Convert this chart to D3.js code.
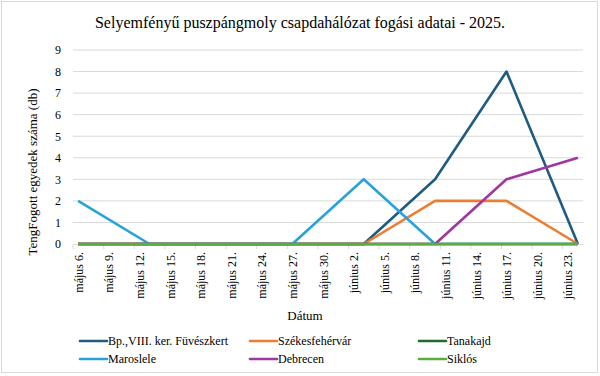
<!DOCTYPE html>
<html>
<head>
<meta charset="utf-8">
<script src="https://cdn.jsdelivr.net/npm/d3@7"></script>
<style>
  body { margin: 0; background: #fff; }
  text { font-family: "Liberation Serif", "DejaVu Serif", serif; fill: #000; }
</style>
</head>
<body>
<div id="chart"></div>
<script>
// data: weekly catch counts
let dates = ["2025-05-06", "2025-05-13", "2025-05-20", "2025-05-27", "2025-06-03", "2025-06-10", "2025-06-17", "2025-06-24"];
let seriesNames = ["Bp.,VIII. ker. Füvészkert", "Székesfehérvár", "Tanakajd", "Maroslele", "Debrecen", "Siklós"];
let seriesColors = ["#1f5c80", "#ed7d31", "#1e6b2c", "#28a3d9", "#a0379f", "#5cac3f"];
let bpValues = [0, 0, 0, 0, 0, 3, 8, 0];
let szfValues = [0, 0, 0, 0, 0, 2, 2, 0];
let tanakajdValues = [0, 0, 0, 0, 0, 0, 0, 0];
let marosleleValues = [2, 0, 0, 0, 3, 0, 0, 0];
let debrecenValues = [0, 0, 0, 0, 0, 0, 3, 4];
let siklosValues = [0, 0, 0, 0, 0, 0, 0, 0];
let yTicks = [0, 1, 2, 3, 4, 5, 6, 7, 8, 9];
let monthNames = ["január", "február", "március", "április", "május", "június", "július"];

let allValues = [bpValues, szfValues, tanakajdValues, marosleleValues, debrecenValues, siklosValues];
// draw order: Siklós ends up on top like in Excel (last series drawn last)
let parseDate = d3.timeParse("%Y-%m-%d");
let dateObjs = dates.map(parseDate);

let width = 600, height = 376;

let svg = d3.select("#chart")
    .append("svg")
    .attr("width", width)
    .attr("height", height);

// outer frame
svg.append("rect")
    .attr("x", 1.5).attr("y", 1.5)
    .attr("width", 596).attr("height", 371)
    .attr("fill", "#fff")
    .attr("stroke", "#d9d9d9");

// scales: each day is a slot, points sit in the middle of it
let x = d3.scaleTime()
    .domain([d3.timeHour.offset(dateObjs[0], -12), d3.timeHour.offset(dateObjs[dateObjs.length - 1], 12)])
    .range([73, 583]);

let y = d3.scaleLinear()
    .domain([0, 9])
    .range([244, 50]);

// title
svg.append("text")
    .attr("x", 300).attr("y", 28)
    .attr("text-anchor", "middle")
    .attr("font-size", 16)
    .text("Selyemfényű puszpángmoly csapdahálózat fogási adatai - 2025.");

// gridlines
svg.append("g")
    .selectAll("line")
    .data(yTicks.slice(1))
    .enter()
    .append("line")
    .attr("x1", 73).attr("x2", 583)
    .attr("y1", d => y(d)).attr("y2", d => y(d))
    .attr("stroke", "#d9d9d9")
    .attr("stroke-width", 1);

// y axis labels
let yAxis = d3.axisLeft(y).tickValues(yTicks).tickSize(0).tickPadding(12);
let yG = svg.append("g").attr("transform", "translate(73,0)").call(yAxis);
yG.select(".domain").remove();
yG.selectAll("text")
    .attr("font-size", 12)
    .attr("font-family", "Liberation Serif, serif");

// x axis
let tickDates = d3.timeDay.range(dateObjs[0], d3.timeDay.offset(dateObjs[dateObjs.length - 1], 1), 3);
let xAxis = d3.axisBottom(x)
    .tickValues(tickDates)
    .tickSize(0)
    .tickFormat(d => monthNames[d.getMonth()] + " " + d.getDate() + ".");
let xG = svg.append("g").attr("transform", "translate(0,244)").call(xAxis);
xG.select(".domain").attr("stroke", "#d9d9d9").attr("stroke-width", 1);
xG.selectAll("text")
    .attr("font-size", 12)
    .attr("font-family", "Liberation Serif, serif")
    .attr("text-anchor", "end")
    .attr("transform", "rotate(-90)")
    .attr("x", -8)
    .attr("y", 0)
    .attr("dy", "0.35em");

// small tick marks between labels
svg.append("g")
    .selectAll("line")
    .data(tickDates)
    .enter()
    .append("line")
    .attr("x1", d => x(d) - 5).attr("x2", d => x(d) - 5)
    .attr("y1", 244).attr("y2", 249)
    .attr("stroke", "#d9d9d9");

// axis titles
svg.append("text")
    .attr("transform", "translate(37,172) rotate(-90)")
    .attr("text-anchor", "middle")
    .attr("font-size", 13)
    .text("TengFogott egyedek száma (db)");

svg.append("text")
    .attr("x", 305).attr("y", 320)
    .attr("text-anchor", "middle")
    .attr("font-size", 13)
    .text("Dátum");

// lines
let line = d3.line()
    .x((d, i) => x(dateObjs[i]))
    .y(d => y(d));

svg.append("g")
    .selectAll("path")
    .data(allValues)
    .enter()
    .append("path")
    .attr("d", line)
    .attr("fill", "none")
    .attr("stroke", (d, i) => seriesColors[i])
    .attr("stroke-width", 2.6)
    .attr("stroke-linejoin", "round");

// legend
let legendX = [80, 250, 419];
let legendY = [341, 359];
let legend = svg.append("g")
    .selectAll("g")
    .data(seriesNames)
    .enter()
    .append("g")
    .attr("transform", (d, i) => "translate(" + legendX[i % 3] + "," + legendY[Math.floor(i / 3)] + ")");

legend.append("line")
    .attr("x1", 0).attr("x2", 27)
    .attr("y1", 0).attr("y2", 0)
    .attr("stroke", (d, i) => seriesColors[i])
    .attr("stroke-width", 2.6)
    .attr("stroke-linecap", "round");

legend.append("text")
    .attr("x", 28)
    .attr("y", 0)
    .attr("dy", "0.35em")
    .attr("font-size", 12)
    .text(d => d);
</script>
</body>
</html>
